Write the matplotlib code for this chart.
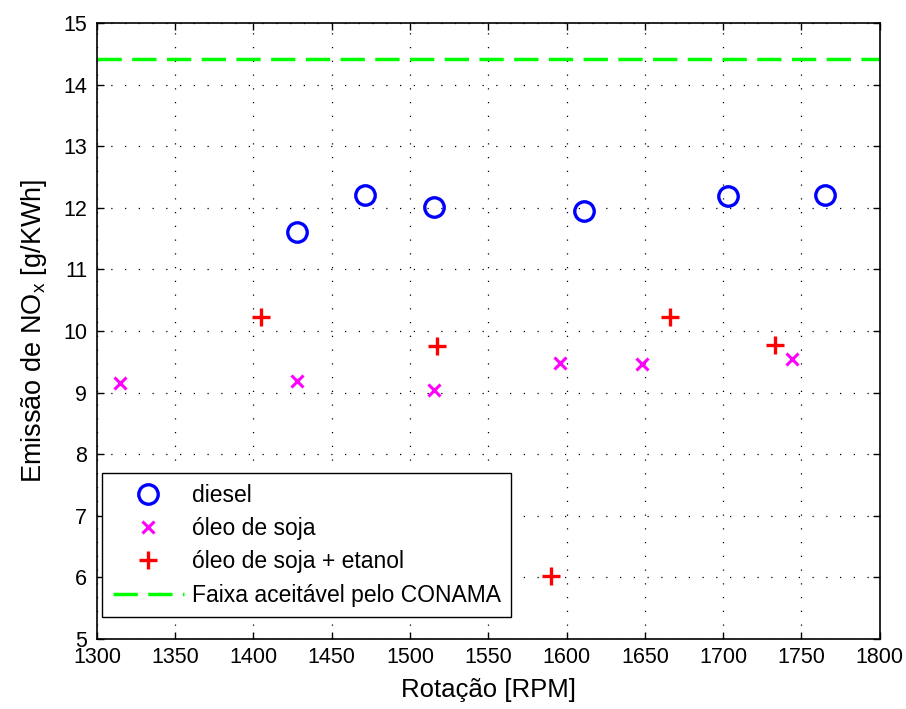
import matplotlib
matplotlib.use("Agg")
import matplotlib.pyplot as plt

plt.rcParams["font.family"] = ["Liberation Sans", "DejaVu Sans"]
plt.rcParams["mathtext.default"] = "regular"

# Data
rpm_diesel = [1428, 1471, 1515, 1611, 1703, 1765]
nox_diesel = [11.60, 12.21, 12.01, 11.95, 12.19, 12.21]

rpm_soja = [1315, 1428, 1515, 1596, 1648, 1744]
nox_soja = [9.16, 9.19, 9.04, 9.48, 9.47, 9.54]

rpm_etanol = [1405, 1517, 1590, 1666, 1733]
nox_etanol = [10.23, 9.75, 6.02, 10.23, 9.77]

conama_limit = 14.42
x_range = [1300, 1800]

fig = plt.figure(figsize=(9.06, 7.09), dpi=100)
ax = fig.add_axes([0.107, 0.0987, 0.864, 0.869])

ax.plot(rpm_diesel, nox_diesel, "o", color="#0000ff", markersize=14,
        markerfacecolor="none", markeredgewidth=2.4, label="diesel")
ax.plot(rpm_soja, nox_soja, "x", color="#ff00ff", markersize=9,
        markeredgewidth=2.2, label="óleo de soja")
ax.plot(rpm_etanol, nox_etanol, "+", color="#ff0000", markersize=13,
        markeredgewidth=2.4, label="óleo de soja + etanol")
ax.plot(x_range, [conama_limit, conama_limit], color="#00ff00", linewidth=2.5,
        dashes=(7, 3), label="Faixa aceitável pelo CONAMA")

ax.set_xlim(1300, 1800)
ax.set_ylim(5, 15)
ax.set_xticks(range(1300, 1801, 50))
ax.set_yticks(range(5, 16))

ax.grid(True, color="black", linestyle=(0, (1, 10)), linewidth=0.9)
ax.tick_params(direction="in", top=True, right=True, length=5, width=1,
               labelsize=15.5)
ax.tick_params(axis="y", pad=7)
ax.tick_params(axis="x", pad=6)
for side in ax.spines.values():
    side.set_linewidth(1.2)

ax.set_xlabel("Rotação [RPM]", fontsize=18.5, labelpad=7)
ax.set_ylabel("Emissão de NO$_x$ [g/KWh]", fontsize=19.5, labelpad=10)

leg = ax.legend(loc="lower left", bbox_to_anchor=(0.0068, 0.036),
                fontsize=16.5, handlelength=3.1, handletextpad=0.35,
                borderpad=0.45, labelspacing=0.45, fancybox=False,
                framealpha=1, edgecolor="black", borderaxespad=0)
leg.get_frame().set_linewidth(1.0)

fig.savefig("out.png", dpi=100)
